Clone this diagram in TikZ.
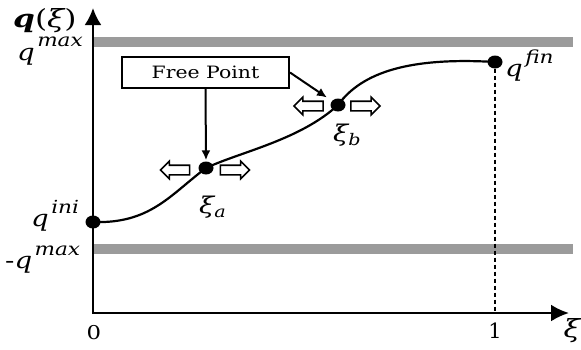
\documentclass[tikz,border=0pt]{standalone}
\usepackage{fontspec}
\newfontfamily\dvs{DejaVu Serif}
\usetikzlibrary{arrows.meta,shapes.arrows,shapes.geometric}
\definecolor{bandgray}{RGB}{155,155,155}
\newcommand{\sx}[1]{\scalebox{1.2}[1]{#1}}
\newcommand{\qs}[3]{\sx{\dvs\fontsize{23}{23}\selectfont #1\hspace{2pt}\raisebox{#3}{\fontsize{18}{18}\selectfont\itshape #2}}}
\begin{document}
\begin{tikzpicture}[x=1pt,y=-1pt,
  axis/.style={line width=2.5pt, line join=miter, {Latex[length=17pt,width=17pt]}-{Latex[length=18pt,width=17pt]}},
  band/.style={line width=10pt, draw=bandgray},
  dot/.style={ellipse, fill=black, minimum width=15pt, minimum height=13pt, inner sep=0pt},
  harrow/.style={single arrow, draw, line width=1.6pt, fill=white, minimum height=29pt, single arrow head extend=4pt, inner sep=0pt},
  ptr/.style={line width=2pt, -{Latex[length=10pt,width=9pt]}},
  curve/.style={line width=2.2pt},
  lbl/.style={inner sep=0pt, anchor=base west}
]
\useasboundingbox (0,0) rectangle (581,349);
% bands
\coordinate (b1l) at (93,42); \coordinate (b1r) at (573,42);
\coordinate (b2l) at (93,249); \coordinate (b2r) at (573,249);
\draw[band] (b1l) -- (b1r);
\draw[band] (b2l) -- (b2r);
% axes
\coordinate (O) at (93,313);
\coordinate (ytip) at (93,8);
\coordinate (xtip) at (569,313);
\draw[axis] (ytip) -- (O) -- (xtip);
% dots
\node[dot] (qini) at (93,222) {};
\node[dot] (xa) at (206,168) {};
\node[dot] (xb) at (338,105) {};
\node[dot] (qfin) at (495,62) {};
% dashed line
\coordinate (one) at (495,313);
\draw[line width=2.5pt, dash pattern=on 4pt off 3pt] (qfin) -- (one);
% curve
\draw[curve] (qini.center) .. controls (150,224) and (170,195) .. (xa.center)
  .. controls (240,152) and (300,140) .. (xb.center)
  .. controls (362,72) and (410,57) .. (qfin.center);
% hollow arrows
\node[harrow, shape border rotate=180] (xal) at (177.5,170) {\rule{0pt}{8pt}};
\node[harrow] (xar) at (232.5,170) {\rule{0pt}{8pt}};
\node[harrow, shape border rotate=180] (xbl) at (311,106) {\rule{0pt}{8pt}};
\node[harrow] (xbr) at (363,106) {\rule{0pt}{8pt}};
% free point box
\node[draw, line width=2pt, fill=white, minimum width=167pt, minimum height=31pt, inner sep=0pt] (fp) at (205.5,72.5) {\scalebox{1.2}[1]{\dvs\fontsize{17}{17}\selectfont Free Point}};
\draw[ptr, shorten >=1pt] (fp.south) -- (xa.north);
\draw[ptr, shorten >=6pt] (fp.east) -- (xb);
% labels
\node[lbl] (qxi) at (13,27) {\scalebox{1.25}[1]{\dvs\fontsize{25}{25}\selectfont\bfseries\itshape q\mdseries\upshape(\itshape ξ\upshape)}};
\node[lbl] (qmax) at (17,60) {\qs{\itshape q}{max}{14pt}};
\node[lbl] (qinil) at (31,226) {\qs{\itshape q}{ini}{13pt}};
\node[lbl] (qminl) at (5,268) {\qs{-\itshape q}{max}{13pt}};
\node[lbl] (qfinl) at (505,76) {\qs{\itshape q}{fin}{13pt}};
\node[lbl] (xial) at (199,213) {\sx{\dvs\fontsize{23}{23}\selectfont\itshape ξ\raisebox{-4pt}{\fontsize{16}{16}\selectfont a}}};
\node[lbl] (xibl) at (333,141) {\sx{\dvs\fontsize{23}{23}\selectfont\itshape ξ\raisebox{-4pt}{\fontsize{16}{16}\selectfont b}}};
\node[inner sep=0pt] (zero) at (94,333) {\sx{\dvs\fontsize{19}{19}\selectfont 0}};
\node[inner sep=0pt] (onel) at (495,331) {\dvs\fontsize{21}{21}\selectfont 1};
\node[inner sep=0pt] (xil) at (572,331) {\sx{\dvs\fontsize{25}{25}\selectfont\itshape ξ}};
\end{tikzpicture}
\end{document}
